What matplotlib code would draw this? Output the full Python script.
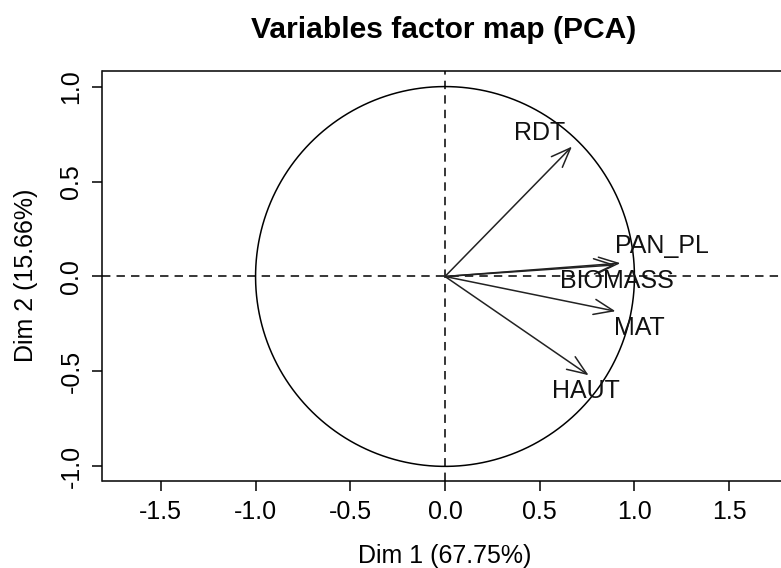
## Import libraries
import numpy as np
import matplotlib.pyplot as plt

## Variable coordinates on the first two dimensions
variables = ['RDT', 'PAN_PL', 'BIOMASS', 'MAT', 'HAUT']
dim1 = [0.670, 0.926, 0.900, 0.900, 0.758]
dim2 = [0.684, 0.070, 0.061, -0.183, -0.520]
dim1_pct = 67.75
dim2_pct = 15.66

## Label offsets (in points) from each arrow tip
label_offsets = [(-23.5, 9.7), (29.9, 12.5), (1.1, -11.5), (17.1, -12.2), (-2, -11.4)]

plt.rcParams['font.family'] = ['Liberation Sans', 'DejaVu Sans']

W, H = 781, 568
fig = plt.figure(figsize=(W / 100, H / 100), dpi=100)
ax = fig.add_axes([102.5 / W, (H - 481) / H, 685 / W, 410 / H])
ax.set_xlim(-1.808, 1.808)
ax.set_ylim(-1.077, 1.082)

## Unit circle and dashed axes
t = np.linspace(0, 2 * np.pi, 400)
ax.plot(np.cos(t), np.sin(t), color='black', lw=1.1)
ax.axhline(0, color='black', lw=1.1, ls=(0, (5.5, 4)))
ax.axvline(0, color='black', lw=1.1, ls=(0, (5.5, 4)))

## Arrows and labels
for name, x, y, off in zip(variables, dim1, dim2, label_offsets):
    ax.annotate('', xy=(x, y), xytext=(0, 0),
                arrowprops=dict(arrowstyle='->,head_length=1.4,head_width=0.55',
                                color='#222222', lw=1.1, shrinkA=0, shrinkB=0))
    ax.annotate(name, xy=(x, y), xytext=off, textcoords='offset points',
                ha='center', va='center', fontsize=18, color='#111111')

ax.set_xticks([-1.5, -1.0, -0.5, 0.0, 0.5, 1.0, 1.5])
ax.set_yticks([-1.0, -0.5, 0.0, 0.5, 1.0])
ax.set_xticklabels(['-1.5', '-1.0', '-0.5', '0.0', '0.5', '1.0', '1.5'])
ax.set_yticklabels(['-1.0', '-0.5', '0.0', '0.5', '1.0'], rotation=90, va='center')
ax.tick_params(direction='out', length=7.2, width=1.1, labelsize=18, pad=6.5)

for s in ax.spines.values():
    s.set_linewidth(1.1)

## Axis titles and main title
fig.text(445 / W, 1 - 562.5 / H, 'Dim 1 (%.2f%%)' % dim1_pct,
         ha='center', va='baseline', fontsize=18)
fig.text(33 / W, 1 - 275 / H, 'Dim 2 (%.2f%%)' % dim2_pct,
         ha='center', va='baseline', rotation=90, rotation_mode='anchor', fontsize=18)
fig.text(444 / W, 1 - 38.3 / H, 'Variables factor map (PCA)',
         ha='center', va='baseline', fontsize=21.6, fontweight='bold')

fig.savefig('out.png', dpi=100)
